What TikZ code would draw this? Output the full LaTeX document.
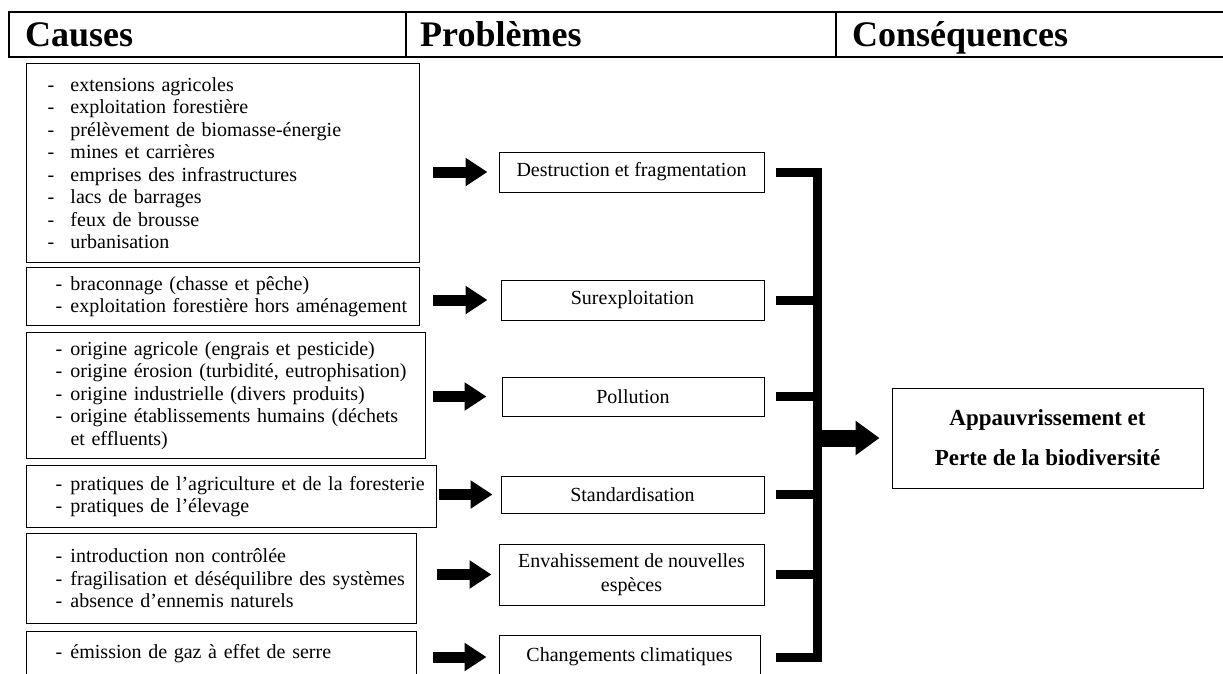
\documentclass[tikz,border=0pt]{standalone}
\usepackage{fontspec}
\setmainfont{Liberation Serif}
\usetikzlibrary{arrows.meta}
\setlength{\parindent}{0pt}

\newcommand{\tiret}[1][29pt]{\makebox[44pt][l]{\hspace{#1}-}}
\newcommand{\suite}{\hspace*{44pt}}

\begin{document}
\begin{tikzpicture}[x=1pt,y=-1pt]
\useasboundingbox (0,0) rectangle (1223,673);
\tikzstyle{entete}=[anchor=base west, inner sep=0pt, font=\bfseries\fontsize{36}{40}\selectfont]
\tikzstyle{cause}=[draw, line width=1pt, anchor=north west, inner sep=0pt, align=left, font=\fontsize{20}{22.5}\selectfont]
\tikzstyle{probleme}=[draw, line width=1pt, inner sep=2pt, align=center, font=\fontsize{20}{24}\selectfont]
\tikzstyle{resultat}=[draw, line width=1pt, inner sep=2pt, align=center, font=\bfseries\fontsize{23}{40}\selectfont]
\tikzstyle{fleche}=[line width=11pt, -{Triangle[length=22pt,width=27pt]}]
\tikzstyle{barre}=[line width=9pt]

\draw[line width=2.5pt] (1223,12) -- (9,12) -- (9,57) -- (1223,57);
\draw[line width=1.5pt] (406,12) -- (406,57) (836,12) -- (836,57);
\draw (25,46) node[entete] (h1) {Causes};
\draw (420,46) node[entete] (h2) {Problèmes};
\draw (852,46) node[entete] (h3) {Conséquences};

\draw (26,63) node[cause, text width=393pt, minimum width=393pt, minimum height=199pt] (c1)
  {\tiret[21pt]extensions agricoles\\
   \tiret[21pt]exploitation forestière\\
   \tiret[21pt]prélèvement de biomasse-énergie\\
   \tiret[21pt]mines et carrières\\
   \tiret[21pt]emprises des infrastructures\\
   \tiret[21pt]lacs de barrages\\
   \tiret[21pt]feux de brousse\\
   \tiret[21pt]urbanisation};
\draw (26,267) node[cause, text width=393pt, minimum width=393pt, minimum height=58pt] (c2)
  {\tiret braconnage (chasse et pêche)\\
   \tiret exploitation forestière hors aménagement};
\draw (26,332) node[cause, text width=399pt, minimum width=399pt, minimum height=126pt] (c3)
  {\tiret origine agricole (engrais et pesticide)\\
   \tiret origine érosion (turbidité, eutrophisation)\\
   \tiret origine industrielle (divers produits)\\
   \tiret origine établissements humains (déchets\\
   \suite et effluents)};
\draw (26,465) node[cause, text width=410pt, minimum width=410pt, minimum height=62pt] (c4)
  {\tiret pratiques de l’agriculture et de la foresterie\\
   \tiret pratiques de l’élevage};
\draw (26,533) node[cause, text width=390pt, minimum width=390pt, minimum height=90pt] (c5)
  {\tiret introduction non contrôlée\\
   \tiret fragilisation et déséquilibre des systèmes\\
   \tiret absence d’ennemis naturels};
\draw (26,631) node[cause, text width=390pt, minimum width=390pt, minimum height=44pt] (c6)
  {\tiret émission de gaz à effet de serre};

\draw (631.5,172) node[probleme, minimum width=265pt, minimum height=40pt] (p1) {Destruction et fragmentation};
\draw (632.5,300) node[probleme, minimum width=263pt, minimum height=40pt] (p2) {Surexploitation};
\draw (633,396.5) node[probleme, minimum width=262pt, minimum height=39pt] (p3) {Pollution};
\draw (632.5,494.5) node[probleme, minimum width=263pt, minimum height=37pt] (p4) {Standardisation};
\draw (631.5,574.5) node[probleme, minimum width=265pt, minimum height=61pt] (p5) {Envahissement de nouvelles\\espèces};
\draw (629.5,657) node[probleme, minimum width=261pt, minimum height=44pt] (p6) {Changements climatiques};

\draw (1047.5,438) node[resultat, minimum width=311pt, minimum height=100pt] (res) {Appauvrissement et\\Perte de la biodiversité};

\foreach \c/\p/\a/\b in {c1/p1/13pt/11pt, c2/p2/13pt/13pt, c3/p3/7pt/15pt, c4/p4/2pt/8pt, c5/p5/20pt/7pt, c6/p6/16pt/12pt}
  \draw[fleche, shorten <=\a, shorten >=\b] (\c.east |- \p.west) -- (\p.west);

\coordinate (dos) at (817.5,0);
\draw[barre] ([xshift=11pt]p1.east) -- (p1.east -| dos) -- (p6.east -| dos) -- ([xshift=15pt]p6.east);
\foreach \p in {p2,p3,p4,p5}
  \draw[barre] ([xshift=11pt]\p.east) -- (\p.east -| dos);
\draw[line width=17pt, -{Triangle[length=24pt,width=33pt]}, shorten >=12pt] (dos |- res.west) -- (res.west);
\end{tikzpicture}
\end{document}
